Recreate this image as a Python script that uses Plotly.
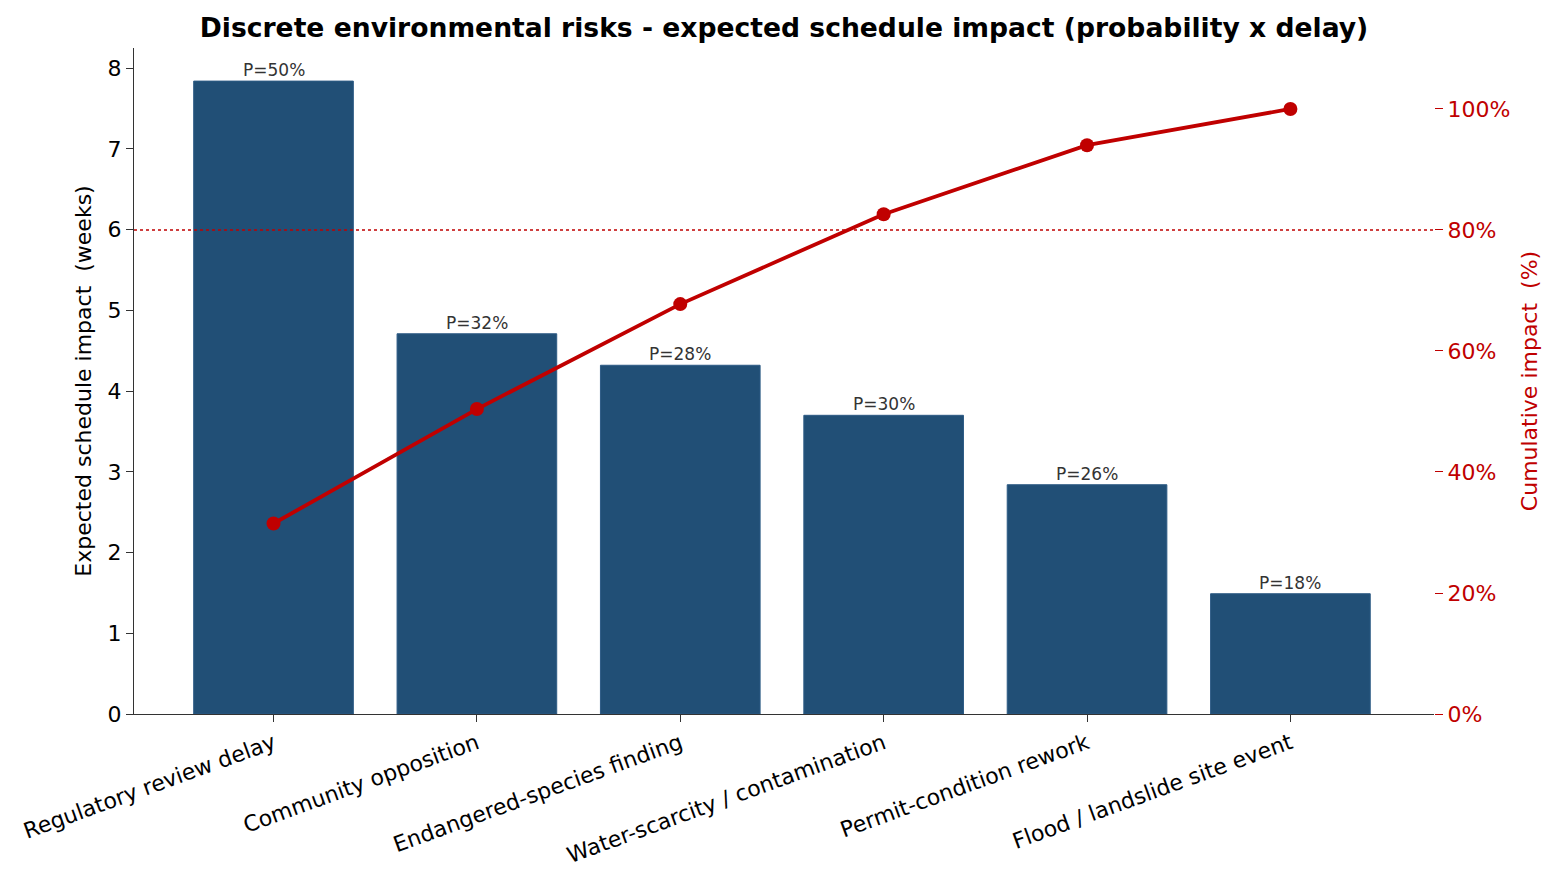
import plotly.graph_objects as go

risks = ["Regulatory review delay", "Community opposition", "Endangered-species finding",
         "Water-scarcity / contamination", "Permit-condition rework", "Flood / landslide site event"]
impact_weeks = [7.84, 4.71, 4.32, 3.70, 2.84, 1.49]
probability = [50, 32, 28, 30, 26, 18]
pct_ticks = [0, 20, 40, 60, 80, 100]

BLUE = "#214f76"
RED = "#c00000"
FONT = "DejaVu Sans"

total = sum(impact_weeks)
cumulative = []
running = 0
for v in impact_weeks:
    running += v
    cumulative.append(running / total * 100)

fig = go.Figure()
fig.add_trace(go.Bar(x=risks, y=impact_weeks, width=0.785,
                     marker=dict(color=BLUE, line=dict(color="#2d5b85", width=1)),
                     showlegend=False, hoverinfo="y"))
fig.add_trace(go.Scatter(x=risks, y=cumulative, yaxis="y2", mode="lines+markers",
                         line=dict(color=RED, width=3.8), marker=dict(color=RED, size=14),
                         showlegend=False))

# threshold line at 80% cumulative
fig.add_shape(type="line", xref="paper", x0=0, x1=1, yref="y2", y0=80, y1=80,
              line=dict(color=RED, width=1.5, dash="dot"))

for name, v, p in zip(risks, impact_weeks, probability):
    fig.add_annotation(x=name, y=v, text=f"P={p}%", showarrow=False, yanchor="bottom",
                       yshift=-1, font=dict(family=FONT, size=17, color="#333333"))

# page body adds an 8px margin, so the figure is 16px smaller than the window
fig.update_layout(
    width=1542, height=876,
    plot_bgcolor="white", paper_bgcolor="white",
    margin=dict(l=125, r=114, t=40, b=170),
    font=dict(family=FONT, size=22, color="black"),
    title=dict(text="<b>Discrete environmental risks - expected schedule impact (probability x delay)</b>",
               x=0.5, xref="paper", xanchor="center", y=0.978, yanchor="middle",
               font=dict(family=FONT, size=26.6, color="black")),
    xaxis=dict(range=[-0.686, 5.706], tickangle=-20, showline=True, linecolor="#333333",
               linewidth=1.3, ticks="outside", ticklen=7, tickcolor="#333333",
               tickfont=dict(size=22), showgrid=False),
    yaxis=dict(range=[0, 8.25], dtick=1, showline=True, linecolor="#333333", linewidth=1.3,
               ticks="outside", ticklen=7, tickcolor="#333333", showgrid=False, zeroline=False,
               tickfont=dict(size=22),
               title=dict(text="Expected schedule impact  (weeks)", font=dict(size=22), standoff=9)),
    yaxis2=dict(range=[0, 110.08], overlaying="y", side="right", tickmode="array",
                tickvals=pct_ticks, ticktext=[f"{t}%" for t in pct_ticks],
                ticks="outside", ticklen=8, tickcolor=RED, tickwidth=1.3,
                tickfont=dict(color=RED, size=22), showline=False, showgrid=False, zeroline=False,
                title=dict(text="Cumulative impact  (%)", font=dict(color=RED, size=22), standoff=12)),
)

fig.write_html("out.html")
